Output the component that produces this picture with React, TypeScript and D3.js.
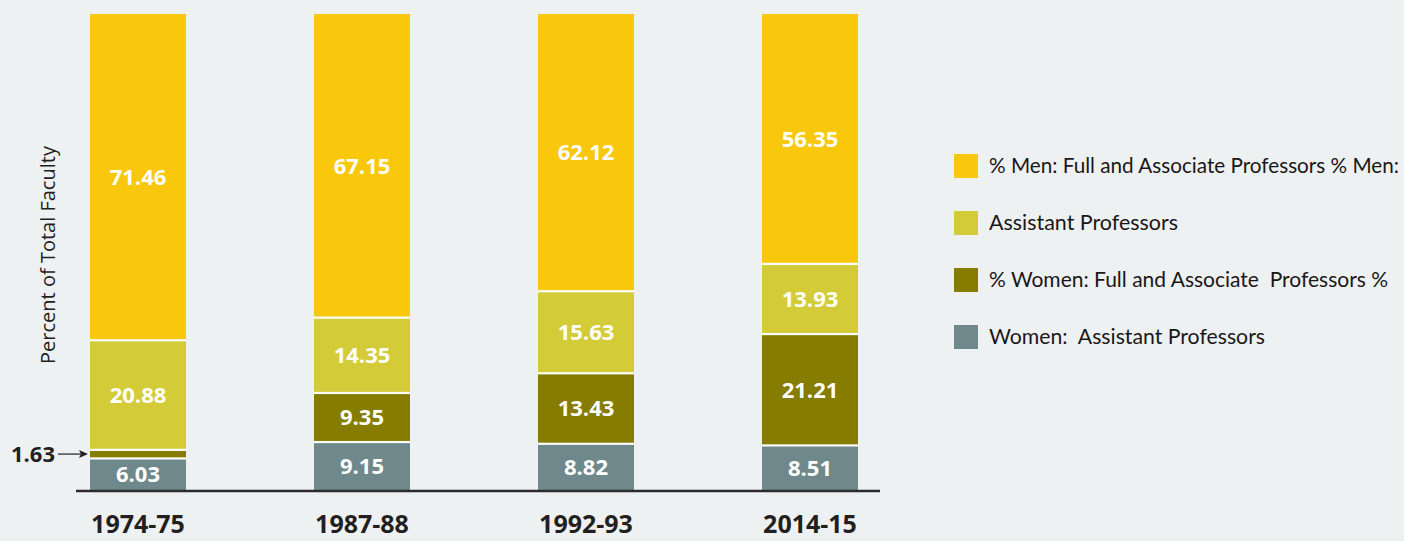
import React, { useEffect, useRef } from 'react';
import * as d3 from 'd3';

const years = ['1974-75', '1987-88', '1992-93', '2014-15'];
const seriesKeys = ['womenAsst', 'womenFull', 'menAsst', 'menFull'];
const womenAsst = [6.03, 9.15, 8.82, 8.51];
const womenFull = [1.63, 9.35, 13.43, 21.21];
const menAsst = [20.88, 14.35, 15.63, 13.93];
const menFull = [71.46, 67.15, 62.12, 56.35];
const colors = ['#6f888b', '#857c00', '#d3cc38', '#f9c80c'];

const legendLabels = [
    '% Men: Full and Associate Professors % Men:',
    'Assistant Professors',
    '% Women: Full and Associate  Professors %',
    'Women:  Assistant Professors',
];
const legendColors = ['#f9c80c', '#d3cc38', '#857c00', '#6f888b'];
const legendWidths = [410, 189, 399, 276];

const W = 1404;
const H = 541;

const App: React.FC = () => {
    const svgRef = useRef<SVGSVGElement>(null);

    useEffect(() => {
        document.body.style.margin = '0';
        if (!svgRef.current) return;
        const svg = d3.select(svgRef.current);
        svg.selectAll('*').remove();

        svg.append('rect').attr('width', W).attr('height', H).attr('fill', '#eef1f2');

        const x = d3.scaleBand<string>()
            .domain(years)
            .range([26, 922])
            .paddingInner(0.5714)
            .paddingOuter(0.2857);

        // the original artwork compresses the upper part of the bars
        const y = d3.scaleLinear().domain([0, 40, 100]).range([490, 280, 14]);

        const rows = years.map((yr, i) => ({
            year: yr,
            womenAsst: womenAsst[i],
            womenFull: womenFull[i],
            menAsst: menAsst[i],
            menFull: menFull[i],
        }));

        const stack = d3.stack<any>().keys(seriesKeys);
        const layers = stack(rows);

        const g = svg.append('g');

        layers.forEach((layer, li) => {
            layer.forEach((d) => {
                const yr = (d.data as any).year;
                const top = y(d[1]);
                const bot = y(d[0]);
                g.append('rect')
                    .attr('x', x(yr)!)
                    .attr('y', top)
                    .attr('width', x.bandwidth())
                    .attr('height', Math.max(0, bot - top))
                    .attr('fill', colors[li]);

                const v = d[1] - d[0];
                if (v > 3) {
                    g.append('text')
                        .attr('x', x(yr)! + x.bandwidth() / 2)
                        .attr('y', (top + bot) / 2)
                        .attr('dy', '0.36em')
                        .attr('text-anchor', 'middle')
                        .attr('font-family', 'Open Sans')
                        .attr('font-weight', 'bold')
                        .attr('font-size', '22px')
                        .attr('fill', '#ffffff')
                        .text(v.toFixed(2));
                }
            });
        });

        // light separators between segments
        layers.slice(0, -1).forEach((layer) => {
            layer.forEach((d) => {
                const yr = (d.data as any).year;
                g.append('rect')
                    .attr('x', x(yr)!)
                    .attr('y', y(d[1]) - 1)
                    .attr('width', x.bandwidth())
                    .attr('height', 2.2)
                    .attr('fill', '#fbfcfc');
            });
        });

        // baseline
        svg.append('line')
            .attr('x1', 76).attr('x2', 880)
            .attr('y1', y(0) + 1).attr('y2', y(0) + 1)
            .attr('stroke', '#2b2b2b')
            .attr('stroke-width', 2.5);

        // x labels
        years.forEach((yr) => {
            svg.append('text')
                .attr('x', x(yr)! + x.bandwidth() / 2)
                .attr('y', 533)
                .attr('text-anchor', 'middle')
                .attr('font-family', 'Open Sans')
                .attr('font-weight', 'bold')
                .attr('font-size', '25px')
                .attr('fill', '#231f20')
                .text(yr);
        });

        // small value callout
        const smallY = (y(womenAsst[0]) + y(womenAsst[0] + womenFull[0])) / 2;
        svg.append('text')
            .attr('x', 55)
            .attr('y', smallY)
            .attr('dy', '0.36em')
            .attr('text-anchor', 'end')
            .attr('font-family', 'Open Sans')
            .attr('font-weight', 'bold')
            .attr('font-size', '22px')
            .attr('fill', '#231f20')
            .text(womenFull[0].toFixed(2));
        svg.append('line')
            .attr('x1', 58).attr('x2', 82)
            .attr('y1', smallY).attr('y2', smallY)
            .attr('stroke', '#231f20')
            .attr('stroke-width', 1.2);
        svg.append('path')
            .attr('d', `M${x(years[0])! - 2},${smallY} L${x(years[0])! - 11},${smallY - 4} L${x(years[0])! - 9},${smallY} L${x(years[0])! - 11},${smallY + 4} Z`)
            .attr('fill', '#231f20');

        // y title
        svg.append('text')
            .attr('transform', 'translate(55,255) rotate(-90)')
            .attr('text-anchor', 'middle')
            .attr('font-family', 'Open Sans')
            .attr('font-size', '20px')
            .attr('fill', '#231f20')
            .text('Percent of Total Faculty');

        // legend
        const lg = svg.append('g').attr('transform', 'translate(954,166)');
        legendLabels.forEach((lab, i) => {
            const row = lg.append('g').attr('transform', `translate(0,${i * 57})`);
            row.append('rect')
                .attr('x', 0).attr('y', -12)
                .attr('width', 24).attr('height', 24)
                .attr('fill', legendColors[i]);
            row.append('text')
                .attr('x', 35)
                .attr('y', 0)
                .attr('dy', '0.35em')
                .attr('font-family', 'Lato')
                .attr('font-size', '21px')
                .attr('fill', '#1a1718')
                .attr('textLength', legendWidths[i])
                .attr('lengthAdjust', 'spacingAndGlyphs')
                .attr('style', 'white-space: pre')
                .text(lab);
        });
    }, []);

    return <svg ref={svgRef} width={W} height={H} style={{ display: 'block' }}></svg>;
};

export default App;
